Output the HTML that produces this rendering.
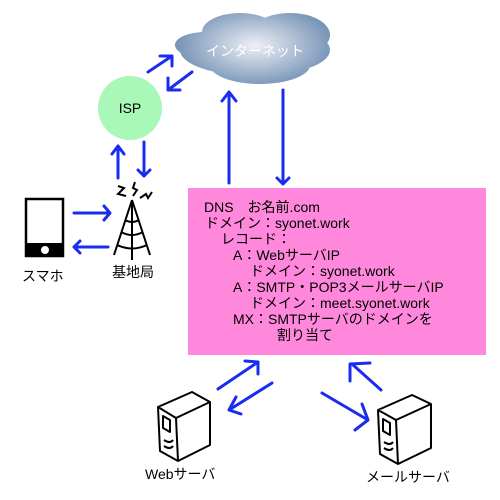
<!DOCTYPE html>
<html><head><meta charset="utf-8"><style>
body{margin:0;width:500px;height:500px;background:#fff;overflow:hidden;position:relative;font-family:"Liberation Sans","Noto Sans CJK JP",sans-serif}
.t{position:absolute;font-size:14px;line-height:16px;white-space:pre;color:#000}
</style></head><body>
<svg width="500" height="500" style="position:absolute;left:0;top:0">
<defs>
<radialGradient id="cg" cx="0.5" cy="0.45" r="0.55"><stop offset="0" stop-color="#eef0f6"/><stop offset="1" stop-color="#5f82aa"/></radialGradient>
<mask id="cm">
<g fill="#fff">
<ellipse cx="255" cy="50" rx="75" ry="26"/>
<ellipse cx="205" cy="45" rx="30" ry="13"/>
<ellipse cx="240" cy="32" rx="38" ry="19"/>
<ellipse cx="290" cy="35" rx="40" ry="22"/>
<ellipse cx="260" cy="65" rx="50" ry="19"/>
</g></mask>
</defs>
<rect x="188" y="188" width="298" height="167" fill="#ff88dd"/>
<rect x="170" y="5" width="170" height="90" fill="url(#cg)" mask="url(#cm)"/>
<text x="255" y="56" fill="#fff" font-size="14" text-anchor="middle" font-family="Liberation Sans, Noto Sans CJK JP, sans-serif">インターネット</text>
<circle cx="130" cy="108" r="32" fill="#aaf8b8"/>
<text x="130" y="113" font-size="14" text-anchor="middle" font-family="Liberation Sans, sans-serif">ISP</text>
<g stroke="#1a2cf0" stroke-width="3" fill="none" stroke-linecap="round" stroke-linejoin="round">
<path d="M148 72 L172 56 M160 56 L172 56 L172 66"/>
<path d="M192 72 L168 90 M168 78 L168 90 L180 90"/>
<path d="M118 178 L118 146 M112 154 L118 146 L124 154"/>
<path d="M144 142 L144 176 M138 170 L144 176 L150 170"/>
<path d="M229 183 L229 92 M222 101 L229 92 L236 101"/>
<path d="M283 90 L283 184 M277 178 L283 184 L289 178"/>
<path d="M74 213 L110 213 M104 206 L110 213 L104 220"/>
<path d="M108 247 L74 247 M80 241 L74 247 L80 253"/>
<path d="M218 389 L258 362 M245 361 L258 362 L258 374"/>
<path d="M272 383 L229 410 M241 414 L229 410 L236 397"/>
<path d="M322 393 L368 420 M362 404 L368 420 L355 430"/>
<path d="M381 390 L352 364 M350 381 L350 364 L370 363"/>
</g>
<rect x="26" y="199" width="37" height="57" fill="#fff" stroke="#000" stroke-width="2.5"/>
<rect x="26" y="243" width="37" height="13" fill="#000"/>
<circle cx="45" cy="250" r="4" fill="#fff"/>
<g stroke="#000" stroke-width="2" fill="none">
<path d="M132 200 L114 255 M132 200 L150 255 M132 200 L132 260"/>
<path d="M125 220 Q132 224 139 220 M121 232 Q132 238 143 232 M117 245 Q132 252 147 245"/>
<path d="M118 186 L124 188 L118 194 L126 196 M135 182 L133 188 L137 190 L133 196 M140 198 L146 194 L148 198 L152 192"/>
</g>
<g stroke="#000" stroke-width="2" fill="#fff" stroke-linejoin="round">
<path d="M158 407 L192 392 L210 402 L210 445 L178 461 L160 451 Z"/>
<path d="M158 407 L176 418 L210 402 M176 418 L178 461"/>
<path d="M163 416 L170 420 L170 432 L163 428 Z" fill="none"/>
<path d="M164 440 Q170 444 173 440 M164 446 Q170 450 173 446" fill="none"/>
<path d="M378 410 L412 395 L431 404 L431 448 L398 464 L380 454 Z"/>
<path d="M378 410 L396 420 L431 404 M396 420 L398 464"/>
<path d="M383 419 L390 423 L390 435 L383 431 Z" fill="none"/>
<path d="M384 442 Q390 446 393 442 M384 448 Q390 452 393 448" fill="none"/>
</g>
</svg>
<div class="t" style="left:22px;top:268px">スマホ</div>
<div class="t" style="left:112px;top:264px">基地局</div>
<div class="t" style="left:145px;top:466px">Webサーバ</div>
<div class="t" style="left:366px;top:469px">メールサーバ</div>
<div class="t" style="left:204px;top:199px">DNS　お名前.com</div>
<div class="t" style="left:205px;top:215px">ドメイン：syonet.work</div>
<div class="t" style="left:221px;top:231px">レコード：</div>
<div class="t" style="left:233px;top:247px">A：WebサーバIP</div>
<div class="t" style="left:250px;top:263px">ドメイン：syonet.work</div>
<div class="t" style="left:233px;top:279px">A：SMTP・POP3メールサーバIP</div>
<div class="t" style="left:250px;top:295px">ドメイン：meet.syonet.work</div>
<div class="t" style="left:233px;top:311px">MX：SMTPサーバのドメインを</div>
<div class="t" style="left:277px;top:327px">割り当て</div>
</body></html>
